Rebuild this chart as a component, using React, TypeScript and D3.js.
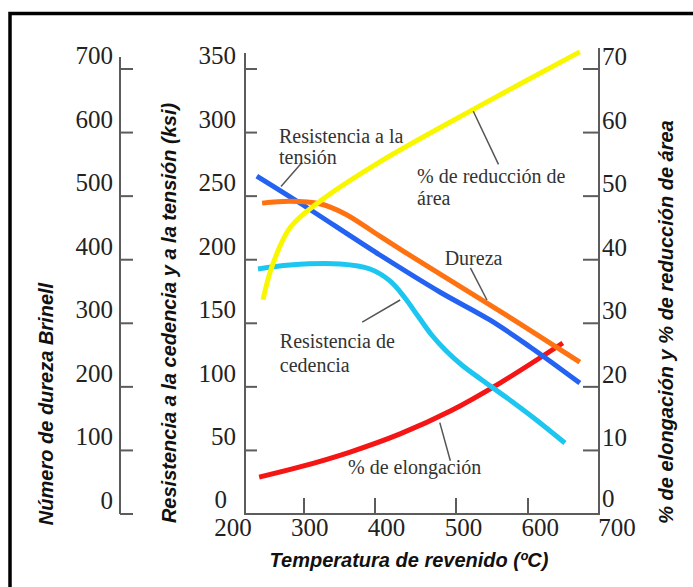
import React from "react";
import * as d3 from "d3";

// ---- data ----
const tempTicks = [200, 300, 400, 500, 600, 700];
const brinellTicks = [0, 100, 200, 300, 400, 500, 600, 700];
const ksiTicks = [0, 50, 100, 150, 200, 250, 300, 350];
const pctTicks = [0, 10, 20, 30, 40, 50, 60, 70];

// Resistencia a la tensión (ksi)
const tempTensile = [220, 293, 406, 480, 547, 603, 673];
const tensileKsi = [265.8, 244.6, 203.7, 174.6, 152.6, 131.4, 103];

// Dureza (Brinell)
const tempHardness = [229, 276, 322, 358, 406, 468, 510, 589, 673];
const hardnessBhn = [489, 492, 488, 472, 437, 387, 355, 299, 239];

// Resistencia de cedencia (ksi)
const tempYield = [222, 276, 351, 393, 418.5, 437, 453, 470, 488, 508, 536, 571, 610, 652];
const yieldKsi = [192.7, 195.8, 196.6, 192.7, 183.3, 169.9, 155.7, 140.8, 128.2, 117.2, 105.4, 91.2, 74.7, 55.8];

// % de elongación
const tempElong = [224, 293, 365, 431, 493, 561, 649];
const elongPct = [5.8, 7.4, 9.75, 12.6, 16.2, 20.6, 26.9];

// % de reducción de área
const tempArea = [230.5, 246, 276, 322.5, 406, 533, 673];
const areaPct = [33.7, 39.0, 45.0, 49.2, 55.4, 64.2, 72.7];

// ---- layout ----
const W = 693;
const H = 587;
const Y0 = 514;
const YTOP = 69;

const x = d3
  .scaleLinear()
  .domain(tempTicks)
  .range([245, 304, 375, 456, 528, 599]);
const xLabel = d3.scaleLinear().domain([200, 700]).range([233, 617]);
const yBhn = d3.scaleLinear().domain([0, 700]).range([Y0, YTOP]);
const yKsi = d3.scaleLinear().domain([0, 350]).range([Y0, YTOP]);
const yPct = d3.scaleLinear().domain([0, 70]).range([Y0, YTOP]);

const BRINELL_X = 120;
const KSI_X = x(200);
const RIGHT_X = x(700);

const serif = "'Liberation Serif', 'Times New Roman', serif";
const sans = "'Liberation Sans', Arial, sans-serif";
const axisColor = "#5c5c5c";

type Series = { t: number[]; v: number[]; y: d3.ScaleLinear<number, number>; color: string };

const series: Series[] = [
  { t: tempElong, v: elongPct, y: yPct, color: "#f51515" },
  { t: tempTensile, v: tensileKsi, y: yKsi, color: "#2463f2" },
  { t: tempHardness, v: hardnessBhn, y: yBhn, color: "#ff7212" },
  { t: tempYield, v: yieldKsi, y: yKsi, color: "#1cc6f0" },
  { t: tempArea, v: areaPct, y: yPct, color: "#f9f700" },
];

// annotations in data coordinates (temperature, ksi)
const notes = [
  { t: 257.6, k: 292, text: "Resistencia a la" },
  { t: 257.6, k: 275, text: "tensión" },
  { t: 452, k: 260.7, text: "% de reducción de" },
  { t: 452, k: 243.3, text: "área" },
  { t: 486, k: 196, text: "Dureza" },
  { t: 259, k: 130.4, text: "Resistencia de" },
  { t: 259, k: 111.4, text: "cedencia" },
  { t: 362, k: 31.6, text: "% de elongación" },
];
const leaders = [
  [261, 257.6, 296.6, 276.5],
  [524, 316.8, 559, 275],
  [520, 193.6, 543, 168.3],
  [431, 168.3, 382, 150.9],
  [480, 71.9, 493, 41.9],
];

export default function App() {
  const line = (s: Series) =>
    d3
      .line<number>()
      .x((_, i) => x(s.t[i]))
      .y((d) => s.y(d))
      .curve(d3.curveCatmullRom.alpha(0.5))(s.v) || "";

  return (
    <svg
      width={W}
      height={H}
      style={{ position: "absolute", left: 0, top: 0, background: "#fff" }}
    >
      <rect x={0} y={0} width={W} height={H} fill="#fff" />
      {/* frame */}
      <rect x={10} y={13.5} width={W + 20} height={H + 20} fill="none" stroke="#000" strokeWidth={3.5} />

      {/* Brinell axis */}
      <line x1={BRINELL_X} x2={BRINELL_X} y1={YTOP - 12} y2={yBhn(0)} stroke={axisColor} strokeWidth={2} />
      {brinellTicks.map((v) => (
        <g key={"b" + v}>
          <line x1={BRINELL_X} x2={BRINELL_X + 13} y1={yBhn(v)} y2={yBhn(v)} stroke={axisColor} strokeWidth={2} />
          <text x={BRINELL_X - 7} y={yBhn(v) - 5} textAnchor="end" fontFamily={serif} fontSize={25} fill="#222">
            {v}
          </text>
        </g>
      ))}

      {/* ksi axis */}
      <line x1={KSI_X} x2={KSI_X} y1={YTOP - 16} y2={Y0} stroke={axisColor} strokeWidth={2} />
      {ksiTicks.map((v) => (
        <g key={"k" + v}>
          {v > 0 && (
            <line x1={KSI_X} x2={KSI_X + 12} y1={yKsi(v)} y2={yKsi(v)} stroke={axisColor} strokeWidth={2} />
          )}
          <text
            x={v === 0 ? KSI_X - 18 : KSI_X - 9}
            y={yKsi(v) - (v === 0 ? 6 : 5)}
            textAnchor="end"
            fontFamily={serif}
            fontSize={25}
            fill="#222"
          >
            {v}
          </text>
        </g>
      ))}

      {/* right % axis */}
      <line x1={RIGHT_X} x2={RIGHT_X} y1={YTOP - 21} y2={Y0} stroke={axisColor} strokeWidth={2} />
      {pctTicks.map((v) => (
        <g key={"p" + v}>
          {v > 0 && (
            <line x1={RIGHT_X - 16} x2={RIGHT_X} y1={yPct(v)} y2={yPct(v)} stroke={axisColor} strokeWidth={2} />
          )}
          <text
            x={RIGHT_X + 3}
            y={yPct(v) - (v === 0 ? 7 : 4)}
            textAnchor="start"
            fontFamily={serif}
            fontSize={25}
            fill="#222"
          >
            {v}
          </text>
        </g>
      ))}

      {/* x axis */}
      <line x1={KSI_X - 1} x2={RIGHT_X + 1} y1={Y0} y2={Y0} stroke={axisColor} strokeWidth={2} />
      {tempTicks.slice(1, -1).map((t) => (
        <line key={"xt" + t} x1={x(t)} x2={x(t)} y1={Y0} y2={Y0 - 16} stroke={axisColor} strokeWidth={2} />
      ))}
      {tempTicks.map((t) => (
        <text key={"xl" + t} x={xLabel(t)} y={Y0 + 22} textAnchor="middle" fontFamily={serif} fontSize={25} fill="#222">
          {t}
        </text>
      ))}

      {/* curves */}
      {series.map((s, i) => (
        <path key={i} d={line(s)} fill="none" stroke={s.color} strokeWidth={5} strokeLinecap="butt" />
      ))}

      {/* leaders */}
      {leaders.map(([t1, k1, t2, k2], i) => (
        <line key={"ld" + i} x1={x(t1)} y1={yKsi(k1)} x2={x(t2)} y2={yKsi(k2)} stroke="#555" strokeWidth={1.5} />
      ))}
      {notes.map((n, i) => (
        <text key={"n" + i} x={x(n.t)} y={yKsi(n.k)} fontFamily={serif} fontSize={20} fill="#333">
          {n.text}
        </text>
      ))}

      {/* axis titles */}
      <text
        transform={`translate(53, 404) rotate(-90)`}
        textAnchor="middle"
        fontFamily={sans}
        fontWeight="bold"
        fontStyle="italic"
        fontSize={20}
        fill="#111"
      >
        Número de dureza Brinell
      </text>
      <text
        transform={`translate(176, 313) rotate(-90)`}
        textAnchor="middle"
        fontFamily={sans}
        fontWeight="bold"
        fontStyle="italic"
        fontSize={20}
        fill="#111"
      >
        Resistencia a la cedencia y a la tensión (ksi)
      </text>
      <text
        transform={`translate(673, 322) rotate(-90)`}
        textAnchor="middle"
        fontFamily={sans}
        fontWeight="bold"
        fontStyle="italic"
        fontSize={20}
        fill="#111"
      >
        % de elongación y % de reducción de área
      </text>
      <text
        x={409}
        y={567}
        textAnchor="middle"
        fontFamily={sans}
        fontWeight="bold"
        fontStyle="italic"
        fontSize={20}
        fill="#111"
      >
        Temperatura de revenido (ºC)
      </text>
    </svg>
  );
}
